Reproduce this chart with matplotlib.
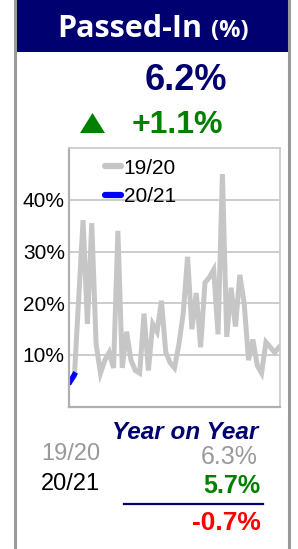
import matplotlib
matplotlib.use("Agg")
import matplotlib.pyplot as plt
from matplotlib.patches import Rectangle, Polygon
from matplotlib.lines import Line2D

# ---- data ----
series_1920 = [5.0, 5.8, 21.0, 36.1, 16.0, 35.5, 12.0, 6.5, 9.0, 10.5, 7.5, 34.0,
               7.5, 14.5, 9.0, 7.0, 6.5, 18.0, 7.0, 16.0, 14.5, 20.5, 10.5, 8.5,
               7.5, 12.0, 18.0, 29.0, 15.0, 22.0, 11.5, 24.0, 25.0, 26.5, 14.0,
               45.0, 13.5, 23.0, 15.5, 25.5, 20.0, 9.0, 13.0, 8.0, 6.5, 12.5,
               11.5, 10.5, 11.5]
series_2021 = [4.8, 6.2]
legend_labels = ["19/20", "20/21"]
y_ticks = [10, 20, 30, 40]
y_tick_labels = ["10%", "20%", "30%", "40%"]
title_main = "Passed-In"
title_unit = "(%)"
headline_value = "6.2%"
headline_change = "+1.1%"
yoy_title = "Year on Year"
yoy_labels = ["19/20", "20/21"]
yoy_values = ["6.3%", "5.7%"]
yoy_diff = "-0.7%"

W, H = 298, 549
fig = plt.figure(figsize=(W / 100, H / 100), dpi=100)
fig.patch.set_facecolor("white")


def fx(x):
    return x / W


def fy(y):
    return 1 - y / H


NAVY = "#000070"
GREEN = "#008000"
SANS = ["Liberation Sans", "DejaVu Sans"]

# outer card borders
for x in (14.5, 288.5):
    fig.add_artist(Line2D([fx(x), fx(x)], [0, 1], transform=fig.transFigure,
                          color="#9a9a9a", lw=2.2))

# title bar
fig.add_artist(Rectangle((fx(15.5), fy(51.5)), fx(287.5) - fx(15.5), 51.5 / H,
                         transform=fig.transFigure, facecolor=NAVY,
                         edgecolor="none"))
fig.text(fx(57), fy(37), title_main, color="white", fontsize=22,
         fontweight="bold", family=["Open Sans", "DejaVu Sans"],
         ha="left", va="baseline")
fig.text(fx(211), fy(37), title_unit, color="white", fontsize=17,
         fontweight="bold", family=["Open Sans", "DejaVu Sans"],
         ha="left", va="baseline")

# headline
fig.text(fx(185.5), fy(90), headline_value, color=NAVY, fontsize=26,
         fontweight="bold", family=SANS, ha="center", va="baseline")
fig.add_artist(Polygon([[fx(80), fy(133)], [fx(105), fy(133)], [fx(92.5), fy(113)]],
                       closed=True, transform=fig.transFigure,
                       facecolor=GREEN, edgecolor="none"))
fig.text(fx(177.5), fy(133), headline_change, color=GREEN, fontsize=23,
         fontweight="bold", family=SANS, ha="center", va="baseline")

# chart
left, right, top, bottom = 69, 280, 148.2, 406.7
ax = fig.add_axes([fx(left), fy(bottom), (right - left) / W, (bottom - top) / H])
n = len(series_1920)
step = (279 - 70) / (n - 1)
pad = 1.0 / step
ax.set_xlim(-pad, n - 1 + pad)
ax.set_ylim(0, 50)
ax.plot(range(n), series_1920, color="#c6c6c6", lw=3.6, solid_joinstyle="miter",
        label=legend_labels[0])
ax.plot(range(len(series_2021)), series_2021, color="#0000ff", lw=3.8,
        solid_capstyle="projecting", label=legend_labels[1])
ax.set_yticks(y_ticks)
ax.set_yticklabels(y_tick_labels, family=SANS, fontsize=15)
ax.set_xticks([])
ax.tick_params(axis="y", length=0, pad=3)
ax.grid(axis="y", color="#c8c8c8", lw=1.3)
ax.set_axisbelow(True)
for s in ("top", "right"):
    ax.spines[s].set_color("#cccccc")
    ax.spines[s].set_linewidth(1.3)
for s in ("left", "bottom"):
    ax.spines[s].set_color("#b0b0b0")
    ax.spines[s].set_linewidth(1.6)

leg = ax.legend(loc="upper left", bbox_to_anchor=(fx(105) - fx(left) + 0.0, 1.0),
                bbox_transform=ax.transAxes, frameon=False, handlelength=0.75,
                handletextpad=0.15, labelspacing=0.45, borderaxespad=0.1,
                prop={"family": SANS, "size": 15})
for h in leg.get_lines():
    h.set_linewidth(4.5)
    h.set_solid_capstyle("round")

# year on year panel
fig.text(fx(258), fy(439), yoy_title, color=NAVY, fontsize=17.5,
         fontweight="bold", style="italic", family=SANS, ha="right", va="baseline")
fig.text(fx(41), fy(460), yoy_labels[0], color="#999999", fontsize=17,
         family=SANS, ha="left", va="baseline")
fig.text(fx(258), fy(464), yoy_values[0], color="#999999", fontsize=18,
         family=SANS, ha="right", va="baseline")
fig.text(fx(41), fy(490), yoy_labels[1], color="black", fontsize=17,
         family=SANS, ha="left", va="baseline")
fig.text(fx(260), fy(493), yoy_values[1], color=GREEN, fontsize=18,
         fontweight="bold", family=SANS, ha="right", va="baseline")
fig.add_artist(Line2D([fx(124), fx(263)], [fy(503.5), fy(503.5)],
                      transform=fig.transFigure, color=NAVY, lw=1.6))
fig.text(fx(261), fy(530), yoy_diff, color="#ff0000", fontsize=19,
         fontweight="bold", family=SANS, ha="right", va="baseline")

fig.savefig("out.png", dpi=100)
